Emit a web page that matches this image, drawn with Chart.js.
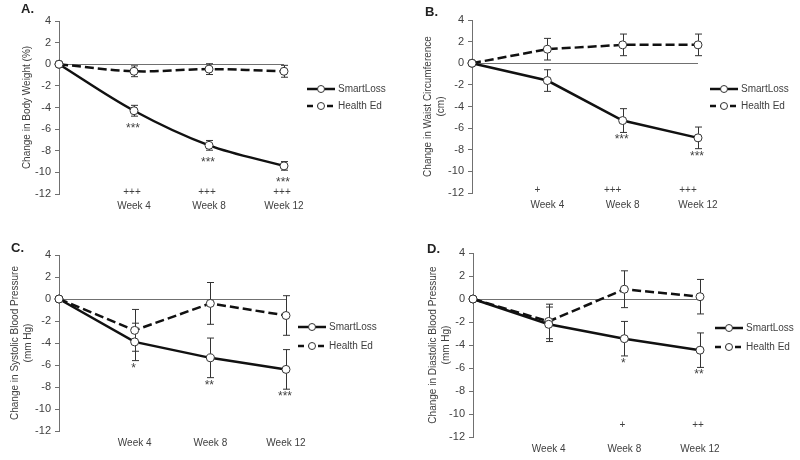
<!DOCTYPE html>
<html>
<head>
<meta charset="utf-8">
<title>SmartLoss vs Health Ed</title>
<script src="https://cdn.jsdelivr.net/npm/chart.js@4/dist/chart.umd.min.js"></script>
<style>
body { margin: 0; background: #fff; }
#wrap { position: relative; width: 800px; height: 460px; }
#wrap canvas { position: absolute; }
</style>
</head>
<body>
<div id="wrap">
<canvas id="chartA" width="400" height="230" style="left:0;top:0"></canvas>
<canvas id="chartB" width="400" height="230" style="left:400px;top:0"></canvas>
<canvas id="chartC" width="400" height="230" style="left:0;top:230px"></canvas>
<canvas id="chartD" width="400" height="230" style="left:400px;top:230px"></canvas>
</div>
<script>
var weeks = [0, 4, 8, 12];
var weekTicks = [4, 8, 12];
var groupNames = ['SmartLoss', 'Health Ed'];

// A. body weight (%)
var weightSmart = [0, -4.3, -7.5, -9.4];
var weightSmartErr = [0, 0.5, 0.45, 0.4];
var weightHealth = [0, -0.65, -0.45, -0.65];
var weightHealthErr = [0, 0.5, 0.5, 0.55];
var weightStars = ['', '***', '***', '***'];
var weightPlus = ['', '+++', '+++', '+++'];

// B. waist circumference (cm)
var waistSmart = [0, -1.6, -5.3, -6.9];
var waistSmartErr = [0, 1.0, 1.1, 1.0];
var waistHealth = [0, 1.3, 1.7, 1.7];
var waistHealthErr = [0, 1.0, 1.0, 1.0];
var waistStars = ['', '', '***', '***'];
var waistPlus = ['', '+', '+++', '+++'];

// C. systolic BP (mm Hg)
var sysSmart = [0, -3.9, -5.35, -6.4];
var sysSmartErr = [0, 1.7, 1.8, 1.8];
var sysHealth = [0, -2.85, -0.4, -1.5];
var sysHealthErr = [0, 1.9, 1.9, 1.8];
var sysStars = ['', '*', '**', '***'];
var sysPlus = ['', '', '', ''];

// D. diastolic BP (mm Hg)
var diaSmart = [0, -2.2, -3.45, -4.45];
var diaSmartErr = [0, 1.5, 1.5, 1.5];
var diaHealth = [0, -1.95, 0.85, 0.2];
var diaHealthErr = [0, 1.5, 1.6, 1.5];
var diaStars = ['', '', '*', '**'];
var diaPlus = ['', '', '+', '++'];

var axisGray = '#707070';
var textColor = '#404040';
var fontFamily = "'Liberation Sans', Arial, sans-serif";

Chart.defaults.font.family = fontFamily;
Chart.defaults.color = textColor;

function series(label, values, errors, dash, tension) {
    return {
        label: label,
        data: weeks.map(function(w, i) { return { x: w, y: values[i] }; }),
        errors: errors,
        borderColor: '#111',
        borderWidth: 2.5,
        borderDash: dash,
        pointRadius: 4,
        pointBackgroundColor: '#fff',
        pointBorderColor: '#333',
        pointBorderWidth: 1,
        tension: tension,
        fill: false,
        clip: false
    };
}

var errorBars = {
    id: 'errorBars',
    beforeDatasetsDraw: function(chart) {
        var ctx = chart.ctx;
        var yScale = chart.scales.y;
        ctx.save();
        ctx.strokeStyle = '#333';
        ctx.lineWidth = 1;
        chart.data.datasets.forEach(function(ds, i) {
            var meta = chart.getDatasetMeta(i);
            ds.errors.forEach(function(e, j) {
                if (!e) return;
                var x = Math.round(meta.data[j].x) + 0.5;
                var v = ds.data[j].y;
                var top = yScale.getPixelForValue(v + e);
                var bot = yScale.getPixelForValue(v - e);
                ctx.beginPath();
                ctx.moveTo(x, top); ctx.lineTo(x, bot);
                ctx.moveTo(x - 3.5, top); ctx.lineTo(x + 3.5, top);
                ctx.moveTo(x - 3.5, bot); ctx.lineTo(x + 3.5, bot);
                ctx.stroke();
            });
        });
        ctx.restore();
    }
};

function makePanel(cfg) {
    var marks = {
        id: 'panelMarks',
        afterDraw: function(chart) {
            var ctx = chart.ctx;
            var xScale = chart.scales.x;
            var yScale = chart.scales.y;
            var area = chart.chartArea;
            ctx.save();

            // panel letter
            ctx.fillStyle = '#222';
            ctx.font = 'bold 13px ' + fontFamily;
            ctx.textAlign = 'left';
            ctx.textBaseline = 'middle';
            ctx.fillText(cfg.letter, cfg.letterX, cfg.letterY);

            // significance stars under SmartLoss
            var smart = chart.data.datasets[0];
            ctx.fillStyle = textColor;
            ctx.textAlign = 'center';
            ctx.textBaseline = 'alphabetic';
            ctx.font = '12px ' + fontFamily;
            cfg.stars.forEach(function(s, j) {
                if (!s) return;
                var x = xScale.getPixelForValue(weeks[j]) - 1;
                var y = yScale.getPixelForValue(smart.data[j].y - smart.errors[j]) + cfg.starGap + 7;
                ctx.fillText(s, x, y);
            });

            // between-group marks along the bottom
            ctx.font = '10px ' + fontFamily;
            cfg.plus.forEach(function(s, j) {
                if (!s) return;
                var x = xScale.getPixelForValue(weeks[j]) + cfg.plusDx;
                var y = yScale.getPixelForValue(cfg.plusAt) + 3.5;
                ctx.fillText(s, x, y);
            });

            // legend: line + circle sample
            ctx.textAlign = 'left';
            ctx.textBaseline = 'middle';
            chart.data.datasets.forEach(function(ds, i) {
                var x0 = area.right + cfg.legendDx;
                var y = cfg.legendY + i * cfg.legendStep;
                ctx.strokeStyle = ds.borderColor;
                ctx.lineWidth = ds.borderWidth;
                ctx.setLineDash(ds.borderDash.length ? [6, 4] : []);
                ctx.beginPath();
                ctx.moveTo(x0, y); ctx.lineTo(x0 + 28, y);
                ctx.stroke();
                ctx.setLineDash([]);
                ctx.beginPath();
                ctx.arc(x0 + 14, y, 3.5, 0, Math.PI * 2);
                ctx.fillStyle = '#fff';
                ctx.fill();
                ctx.lineWidth = 1;
                ctx.strokeStyle = '#333';
                ctx.stroke();
                ctx.fillStyle = textColor;
                ctx.fillText(ds.label, x0 + 31, y);
            });
            ctx.restore();
        }
    };

    new Chart(document.getElementById(cfg.id), {
        type: 'line',
        data: {
            datasets: [
                series(groupNames[0], cfg.smart, cfg.smartErr, [], cfg.tension),
                series(groupNames[1], cfg.health, cfg.healthErr, [9, 4], cfg.tension)
            ]
        },
        options: {
            responsive: false,
            animation: false,
            devicePixelRatio: 1,
            layout: {
                padding: { left: cfg.left - cfg.axisW, top: cfg.top, right: 400 - cfg.right, bottom: 0 }
            },
            plugins: {
                legend: { display: false },
                tooltip: { enabled: false }
            },
            scales: {
                x: {
                    type: 'linear',
                    min: 0,
                    max: 12,
                    afterBuildTicks: function(s) {
                        s.ticks = weekTicks.map(function(v) { return { value: v }; });
                    },
                    ticks: {
                        callback: function(v) { return 'Week ' + v; },
                        padding: 6,
                        maxRotation: 0,
                        font: { size: 10 }
                    },
                    grid: { display: false, drawTicks: false },
                    border: { display: false },
                    afterFit: function(s) { s.height = 230 - cfg.bottom; }
                },
                y: {
                    min: -12,
                    max: 4,
                    ticks: { stepSize: 2, padding: 4, font: { size: 11 } },
                    grid: {
                        color: function(c) {
                            return c.tick && c.tick.value === 0 ? axisGray : 'rgba(0,0,0,0)';
                        },
                        tickColor: axisGray,
                        tickLength: 4
                    },
                    border: { color: axisGray },
                    title: {
                        display: true,
                        text: cfg.title,
                        padding: 0,
                        font: { size: 10, lineHeight: 1.3 }
                    },
                    afterFit: function(s) { s.width = cfg.axisW; }
                }
            }
        },
        plugins: [errorBars, marks]
    });
}

makePanel({
    id: 'chartA', letter: 'A.', letterX: 21, letterY: 9,
    title: ['Change in Body Weight (%)'],
    left: 59, axisW: 38, top: 21, bottom: 194, right: 284, tension: 0.35,
    smart: weightSmart, smartErr: weightSmartErr, health: weightHealth, healthErr: weightHealthErr,
    stars: weightStars, starGap: 9, plus: weightPlus, plusAt: -11.8, plusDx: -2,
    legendDx: 23, legendY: 89, legendStep: 17
});

makePanel({
    id: 'chartB', letter: 'B.', letterX: 25, letterY: 12,
    title: ['Change in Waist Circumference', '(cm)'],
    left: 72, axisW: 50, top: 20, bottom: 193, right: 298, tension: 0,
    smart: waistSmart, smartErr: waistSmartErr, health: waistHealth, healthErr: waistHealthErr,
    stars: waistStars, starGap: 4, plus: waistPlus, plusAt: -11.7, plusDx: -10,
    legendDx: 12, legendY: 89, legendStep: 17
});

makePanel({
    id: 'chartC', letter: 'C.', letterX: 11, letterY: 18,
    title: ['Change in Systolic Blood Pressure', '(mm Hg)'],
    left: 59, axisW: 50, top: 25, bottom: 201, right: 286, tension: 0,
    smart: sysSmart, smartErr: sysSmartErr, health: sysHealth, healthErr: sysHealthErr,
    stars: sysStars, starGap: 4, plus: sysPlus, plusAt: -11.8, plusDx: 0,
    legendDx: 12, legendY: 97, legendStep: 19
});

makePanel({
    id: 'chartD', letter: 'D.', letterX: 27, letterY: 19,
    title: ['Change in Diastolic Blood Pressure', '(mm Hg)'],
    left: 73, axisW: 46, top: 23, bottom: 207, right: 300, tension: 0,
    smart: diaSmart, smartErr: diaSmartErr, health: diaHealth, healthErr: diaHealthErr,
    stars: diaStars, starGap: 4, plus: diaPlus, plusAt: -10.9, plusDx: -2,
    legendDx: 15, legendY: 98, legendStep: 19
});
</script>
</body>
</html>
